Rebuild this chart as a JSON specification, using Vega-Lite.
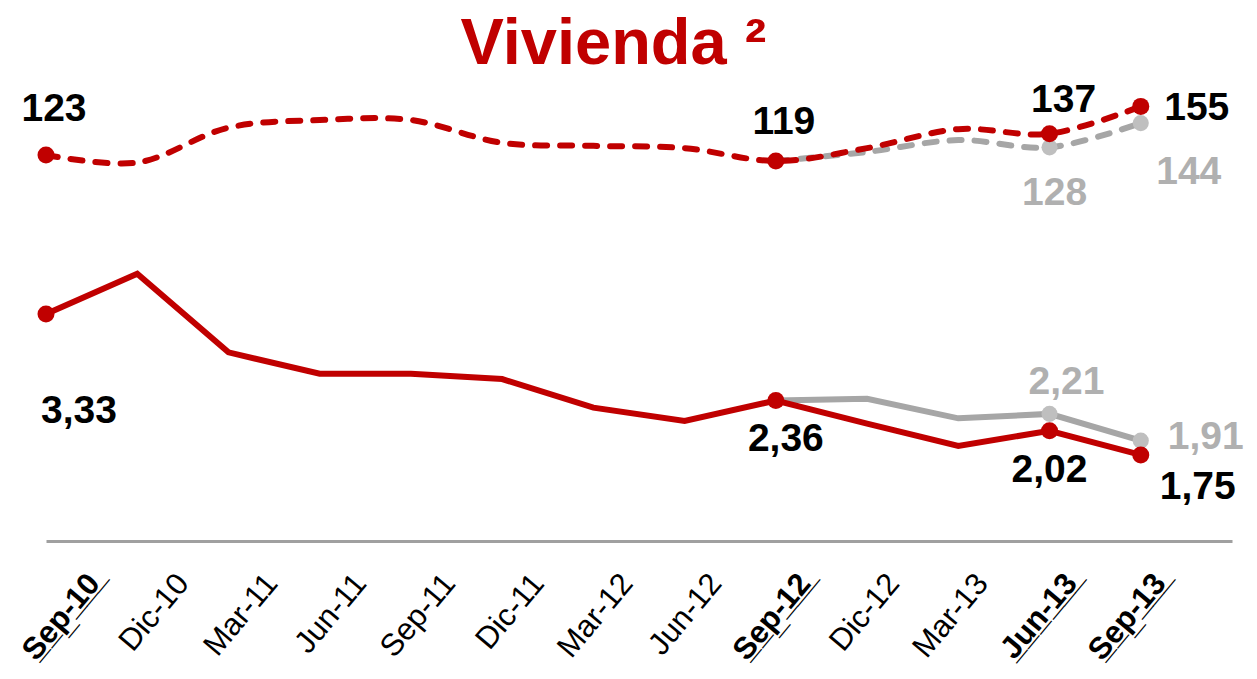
{
  "$schema": "https://vega.github.io/schema/vega-lite/v6.json",
  "width": 1257,
  "height": 461,
  "autosize": {"type": "none"},
  "padding": {"left": 0, "right": 0, "top": 80, "bottom": 138},
  "background": "white",
  "config": {
    "view": {"stroke": null},
    "locale": {"number": {"decimal": ",", "thousands": ".", "grouping": [3], "currency": ["", " €"]}}
  },
  "title": {
    "text": "Vivienda ²",
    "color": "#C00000",
    "fontSize": 65,
    "font": "Liberation Sans",
    "fontWeight": "bold",
    "anchor": "middle",
    "frame": "group",
    "dx": -15,
    "offset": 2
  },
  "data": {
    "values": [
      {"i": 0, "periodo": "Sep-10", "indicador": "saldo", "version": "actual", "valor": 123},
      {"i": 1, "periodo": "Dic-10", "indicador": "saldo", "version": "actual", "valor": 118},
      {"i": 2, "periodo": "Mar-11", "indicador": "saldo", "version": "actual", "valor": 141},
      {"i": 3, "periodo": "Jun-11", "indicador": "saldo", "version": "actual", "valor": 146},
      {"i": 4, "periodo": "Sep-11", "indicador": "saldo", "version": "actual", "valor": 146},
      {"i": 5, "periodo": "Dic-11", "indicador": "saldo", "version": "actual", "valor": 131},
      {"i": 6, "periodo": "Mar-12", "indicador": "saldo", "version": "actual", "valor": 129},
      {"i": 7, "periodo": "Jun-12", "indicador": "saldo", "version": "actual", "valor": 127.5},
      {"i": 8, "periodo": "Sep-12", "indicador": "saldo", "version": "actual", "valor": 119},
      {"i": 9, "periodo": "Dic-12", "indicador": "saldo", "version": "actual", "valor": 127.5},
      {"i": 10, "periodo": "Mar-13", "indicador": "saldo", "version": "actual", "valor": 140},
      {"i": 11, "periodo": "Jun-13", "indicador": "saldo", "version": "actual", "valor": 137},
      {"i": 12, "periodo": "Sep-13", "indicador": "saldo", "version": "actual", "valor": 155},
      {"i": 8, "periodo": "Sep-12", "indicador": "saldo", "version": "anterior", "valor": 119},
      {"i": 9, "periodo": "Dic-12", "indicador": "saldo", "version": "anterior", "valor": 125},
      {"i": 10, "periodo": "Mar-13", "indicador": "saldo", "version": "anterior", "valor": 132.8},
      {"i": 11, "periodo": "Jun-13", "indicador": "saldo", "version": "anterior", "valor": 128},
      {"i": 12, "periodo": "Sep-13", "indicador": "saldo", "version": "anterior", "valor": 144},
      {"i": 0, "periodo": "Sep-10", "indicador": "tasa", "version": "actual", "valor": 3.33},
      {"i": 1, "periodo": "Dic-10", "indicador": "tasa", "version": "actual", "valor": 3.78},
      {"i": 2, "periodo": "Mar-11", "indicador": "tasa", "version": "actual", "valor": 2.9},
      {"i": 3, "periodo": "Jun-11", "indicador": "tasa", "version": "actual", "valor": 2.66},
      {"i": 4, "periodo": "Sep-11", "indicador": "tasa", "version": "actual", "valor": 2.66},
      {"i": 5, "periodo": "Dic-11", "indicador": "tasa", "version": "actual", "valor": 2.6},
      {"i": 6, "periodo": "Mar-12", "indicador": "tasa", "version": "actual", "valor": 2.28},
      {"i": 7, "periodo": "Jun-12", "indicador": "tasa", "version": "actual", "valor": 2.13},
      {"i": 8, "periodo": "Sep-12", "indicador": "tasa", "version": "actual", "valor": 2.36},
      {"i": 9, "periodo": "Dic-12", "indicador": "tasa", "version": "actual", "valor": 2.1},
      {"i": 10, "periodo": "Mar-13", "indicador": "tasa", "version": "actual", "valor": 1.85},
      {"i": 11, "periodo": "Jun-13", "indicador": "tasa", "version": "actual", "valor": 2.02},
      {"i": 12, "periodo": "Sep-13", "indicador": "tasa", "version": "actual", "valor": 1.75},
      {"i": 8, "periodo": "Sep-12", "indicador": "tasa", "version": "anterior", "valor": 2.36},
      {"i": 9, "periodo": "Dic-12", "indicador": "tasa", "version": "anterior", "valor": 2.38},
      {"i": 10, "periodo": "Mar-13", "indicador": "tasa", "version": "anterior", "valor": 2.16},
      {"i": 11, "periodo": "Jun-13", "indicador": "tasa", "version": "anterior", "valor": 2.21},
      {"i": 12, "periodo": "Sep-13", "indicador": "tasa", "version": "anterior", "valor": 1.91}
    ]
  },
  "encoding": {
    "x": {
      "field": "i",
      "type": "quantitative",
      "scale": {"domain": [0, 13], "range": [46, 1232], "nice": false, "zero": false},
      "axis": {
        "values": [0, 1, 2, 3, 4, 5, 6, 7, 8, 9, 10, 11, 12],
        "labelExpr": "['S\u0332e\u0332p\u0332-\u03321\u03320\u0332','Dic-10','Mar-11','Jun-11','Sep-11','Dic-11','Mar-12','Jun-12','S\u0332e\u0332p\u0332-\u03321\u03322\u0332','Dic-12','Mar-13','J\u0332u\u0332n\u0332-\u03321\u03323\u0332','S\u0332e\u0332p\u0332-\u03321\u03323\u0332'][datum.value]",
        "labelAngle": -50,
        "labelFontSize": 31,
        "labelFont": "Liberation Sans",
        "labelColor": "black",
        "labelFontWeight": {"condition": {"test": "indexof([0,8,11,12], datum.value) >= 0", "value": "bold"}, "value": "normal"},
        "labelOffset": {"expr": "48 - 2.4 * datum.value"},
        "labelPadding": 37,
        "ticks": false,
        "grid": false,
        "domainColor": "#A0A0A0",
        "domainWidth": 3,
        "title": null,
        "labelOverlap": false,
        "labelBound": false,
        "labelFlush": false
      }
    }
  },
  "resolve": {"scale": {"y": "independent"}},
  "layer": [
    {
      "transform": [{"filter": "datum.indicador === 'saldo'"}],
      "encoding": {
        "y": {"field": "valor", "type": "quantitative", "scale": {"domain": [-131.5, 172.4], "nice": false, "zero": false}, "axis": null}
      },
      "layer": [
        {
          "transform": [{"filter": "datum.version === 'anterior'"}],
          "mark": {"type": "line", "color": "#A6A6A6", "strokeWidth": 6, "strokeDash": [12, 13], "strokeCap": "round", "interpolate": "catmull-rom"}
        },
        {
          "transform": [{"filter": "datum.version === 'actual'"}],
          "mark": {"type": "line", "color": "#C00000", "strokeWidth": 6, "strokeDash": [12, 13], "strokeCap": "round", "interpolate": "catmull-rom"}
        },
        {
          "transform": [{"filter": "datum.version === 'anterior' && datum.i >= 11"}],
          "mark": {"type": "circle", "color": "#BFBFBF", "opacity": 1, "size": 260}
        },
        {
          "transform": [{"filter": "datum.version === 'actual' && indexof([0,8,11,12], datum.i) >= 0"}],
          "mark": {"type": "circle", "color": "#C00000", "opacity": 1, "size": 290}
        },
        {
          "transform": [{"filter": "datum.version === 'actual' && datum.i === 0"}],
          "mark": {"type": "text", "font": "Liberation Sans", "fontSize": 39, "fontWeight": "bold", "color": "black", "dx": 8, "dy": -46},
          "encoding": {"text": {"field": "valor", "type": "quantitative", "format": "d"}}
        },
        {
          "transform": [{"filter": "datum.version === 'actual' && datum.i === 8"}],
          "mark": {"type": "text", "font": "Liberation Sans", "fontSize": 39, "fontWeight": "bold", "color": "black", "dx": 8, "dy": -39},
          "encoding": {"text": {"field": "valor", "type": "quantitative", "format": "d"}}
        },
        {
          "transform": [{"filter": "datum.version === 'actual' && datum.i === 11"}],
          "mark": {"type": "text", "font": "Liberation Sans", "fontSize": 39, "fontWeight": "bold", "color": "black", "dx": 14, "dy": -34},
          "encoding": {"text": {"field": "valor", "type": "quantitative", "format": "d"}}
        },
        {
          "transform": [{"filter": "datum.version === 'actual' && datum.i === 12"}],
          "mark": {"type": "text", "font": "Liberation Sans", "fontSize": 39, "fontWeight": "bold", "color": "black", "dx": 56, "dy": 2},
          "encoding": {"text": {"field": "valor", "type": "quantitative", "format": "d"}}
        },
        {
          "transform": [{"filter": "datum.version === 'anterior' && datum.i === 11"}],
          "mark": {"type": "text", "font": "Liberation Sans", "fontSize": 39, "fontWeight": "bold", "color": "#B0B0B0", "dx": 5, "dy": 46},
          "encoding": {"text": {"field": "valor", "type": "quantitative", "format": "d"}}
        },
        {
          "transform": [{"filter": "datum.version === 'anterior' && datum.i === 12"}],
          "mark": {"type": "text", "font": "Liberation Sans", "fontSize": 39, "fontWeight": "bold", "color": "#B0B0B0", "dx": 48, "dy": 49},
          "encoding": {"text": {"field": "valor", "type": "quantitative", "format": "d"}}
        }
      ]
    },
    {
      "transform": [{"filter": "datum.indicador === 'tasa'"}],
      "encoding": {
        "y": {"field": "valor", "type": "quantitative", "scale": {"domain": [0.785, 5.953], "nice": false, "zero": false}, "axis": null}
      },
      "layer": [
        {
          "transform": [{"filter": "datum.version === 'anterior'"}],
          "mark": {"type": "line", "color": "#A6A6A6", "strokeWidth": 6}
        },
        {
          "transform": [{"filter": "datum.version === 'actual'"}],
          "mark": {"type": "line", "color": "#C00000", "strokeWidth": 6}
        },
        {
          "transform": [{"filter": "datum.version === 'anterior' && datum.i >= 11"}],
          "mark": {"type": "circle", "color": "#BFBFBF", "opacity": 1, "size": 260}
        },
        {
          "transform": [{"filter": "datum.version === 'actual' && indexof([0,8,11,12], datum.i) >= 0"}],
          "mark": {"type": "circle", "color": "#C00000", "opacity": 1, "size": 290}
        },
        {
          "transform": [{"filter": "datum.version === 'actual' && datum.i === 0"}],
          "mark": {"type": "text", "font": "Liberation Sans", "fontSize": 39, "fontWeight": "bold", "color": "black", "dx": 33, "dy": 97},
          "encoding": {"text": {"field": "valor", "type": "quantitative", "format": ".2f"}}
        },
        {
          "transform": [{"filter": "datum.version === 'actual' && datum.i === 8"}],
          "mark": {"type": "text", "font": "Liberation Sans", "fontSize": 39, "fontWeight": "bold", "color": "black", "dx": 10, "dy": 38},
          "encoding": {"text": {"field": "valor", "type": "quantitative", "format": ".2f"}}
        },
        {
          "transform": [{"filter": "datum.version === 'actual' && datum.i === 11"}],
          "mark": {"type": "text", "font": "Liberation Sans", "fontSize": 39, "fontWeight": "bold", "color": "black", "dx": 0, "dy": 39},
          "encoding": {"text": {"field": "valor", "type": "quantitative", "format": ".2f"}}
        },
        {
          "transform": [{"filter": "datum.version === 'actual' && datum.i === 12"}],
          "mark": {"type": "text", "font": "Liberation Sans", "fontSize": 39, "fontWeight": "bold", "color": "black", "dx": 57, "dy": 32},
          "encoding": {"text": {"field": "valor", "type": "quantitative", "format": ".2f"}}
        },
        {
          "transform": [{"filter": "datum.version === 'anterior' && datum.i === 11"}],
          "mark": {"type": "text", "font": "Liberation Sans", "fontSize": 39, "fontWeight": "bold", "color": "#B0B0B0", "dx": 17, "dy": -32},
          "encoding": {"text": {"field": "valor", "type": "quantitative", "format": ".2f"}}
        },
        {
          "transform": [{"filter": "datum.version === 'anterior' && datum.i === 12"}],
          "mark": {"type": "text", "font": "Liberation Sans", "fontSize": 39, "fontWeight": "bold", "color": "#B0B0B0", "dx": 65, "dy": -4},
          "encoding": {"text": {"field": "valor", "type": "quantitative", "format": ".2f"}}
        }
      ]
    }
  ]
}
